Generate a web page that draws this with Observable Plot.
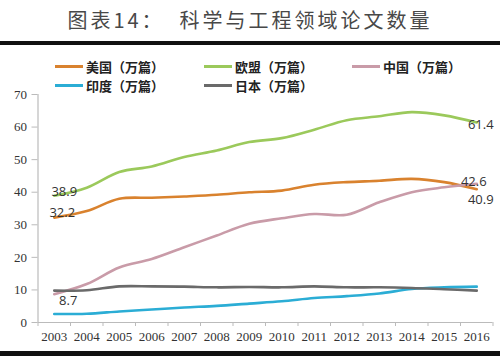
<!DOCTYPE html>
<html>
<head>
<meta charset="utf-8">
<script src="https://cdn.jsdelivr.net/npm/d3@7"></script>
<script src="https://cdn.jsdelivr.net/npm/@observablehq/plot@0.6"></script>
<style>
  html, body { margin: 0; padding: 0; background: #fff; }
  #page { position: relative; width: 500px; height: 356px; overflow: hidden; background: #fff; }
  #title { position: absolute; left: 0; top: 5px; width: 500px; text-align: center;
    font-family: "Noto Sans CJK SC", sans-serif; font-size: 20px; color: #484848; letter-spacing: 3px; white-space: pre; }
  #topbar { position: absolute; left: 0; top: 41px; width: 500px; height: 4px; background: #111; }
  #botbar { position: absolute; left: 0; top: 351px; width: 500px; height: 5px; background: #111; }
  #chart { position: absolute; left: 0; top: 46px; }
  .leg { position: absolute; display: flex; align-items: center;
    font-family: "Noto Sans CJK SC", sans-serif; font-weight: bold; font-size: 13px; color: #222; }
  .leg .sw { width: 28px; height: 3px; margin-right: 3px; }
</style>
</head>
<body>
<div id="page">
  <div id="title"></div>
  <div id="topbar"></div>
  <div id="chart"></div>
  <div id="legend"></div>
  <div id="botbar"></div>
</div>
<script>
const titleText = "图表14：  科学与工程领域论文数量";
const years = [2003, 2004, 2005, 2006, 2007, 2008, 2009, 2010, 2011, 2012, 2013, 2014, 2015, 2016];
const seriesNames = ["美国（万篇）", "欧盟（万篇）", "中国（万篇）", "印度（万篇）", "日本（万篇）"];
const usa   = [32.2, 34.2, 38.0, 38.3, 38.7, 39.2, 40.0, 40.5, 42.3, 43.1, 43.5, 44.1, 43.1, 40.9];
const eu    = [38.9, 41.4, 46.2, 47.9, 50.8, 52.8, 55.4, 56.6, 59.2, 62.1, 63.3, 64.6, 63.6, 61.4];
const china = [8.7, 11.8, 16.9, 19.5, 23.1, 26.7, 30.3, 32.0, 33.3, 33.1, 36.9, 40.0, 41.5, 42.6];
const india = [2.6, 2.7, 3.4, 4.0, 4.6, 5.1, 5.8, 6.5, 7.5, 8.1, 8.9, 10.3, 10.8, 11.0];
const japan = [9.8, 9.9, 11.1, 11.1, 11.0, 10.8, 10.9, 10.8, 11.1, 10.8, 10.8, 10.6, 10.2, 9.8];
const colors = ["#d9822e", "#9bc95b", "#c99ba8", "#2badd5", "#6a6a6a"];
const yTicks = [0, 10, 20, 30, 40, 50, 60, 70];
// annotated values: [series index, year index, dx, dy]
const labels = [
  [1, 0, 10, -8], [0, 0, 8, -9], [2, 0, 14, 3],
  [1, 13, 4, -2], [2, 13, -3, -6], [0, 13, 4, 7]
];

document.getElementById("title").textContent = titleText;

const allSeries = [usa, eu, china, india, japan];
const rows = [];
allSeries.forEach((vals, si) => vals.forEach((v, i) => rows.push({year: years[i], value: v, series: seriesNames[si]})));

const xStart = years[0] - 0.5, xEnd = years[years.length - 1] + 0.5;
const bounds = d3.range(xStart, xEnd + 0.01, 1);

const labelRows = labels.map(([si, yi, dx, dy]) => ({year: years[yi], value: allSeries[si][yi], dx, dy}));

const chart = Plot.plot({
  width: 500,
  height: 304,
  marginLeft: 37.5,
  marginRight: 7.5,
  marginTop: 48,
  marginBottom: 28,
  x: {domain: [xStart, xEnd]},
  y: {domain: [0, 70]},
  color: {domain: seriesNames, range: colors},
  style: {background: "transparent", overflow: "visible"},
  marks: [
    Plot.ruleY([0], {stroke: "#bbb", strokeWidth: 1.2}),
    Plot.ruleX([xStart], {y1: 0, y2: yTicks[yTicks.length - 1], stroke: "#bbb", strokeWidth: 1.2}),
    Plot.axisY(yTicks, {tickSize: 6, tickPadding: 5, stroke: "#bbb", fill: "#333", fontSize: 13,
      fontFamily: "Liberation Serif", label: null}),
    Plot.axisX(years, {tickSize: 0, tickPadding: 9, fill: "#333", fontSize: 13,
      fontFamily: "Liberation Serif", tickFormat: d => String(d), label: null}),
    Plot.axisX(bounds, {tickSize: 4, stroke: "#bbb", tickFormat: () => "", label: null}),
    Plot.line(rows, {x: "year", y: "value", z: "series", stroke: "series", strokeWidth: 2.6, curve: "catmull-rom"}),
    Plot.text(labelRows, {x: "year", y: "value", text: d => d.value.toFixed(1),
      fontSize: 13, fontFamily: "Open Sans", fill: "#333"})
  ]
});
document.getElementById("chart").appendChild(chart);

// apply per-label offsets
const texts = chart.querySelectorAll("g[aria-label='text'] text");
texts.forEach((t, i) => {
  const r = labelRows[i];
  t.setAttribute("dx", r.dx);
  t.setAttribute("dy", r.dy + 4);
});

const legend = document.getElementById("legend");
const legPos = [[55, 57], [204, 57], [352, 57], [55, 76], [204, 76]];
seriesNames.forEach((name, i) => {
  const el = document.createElement("div");
  el.className = "leg";
  el.style.left = legPos[i][0] + "px";
  el.style.top = legPos[i][1] + "px";
  el.innerHTML = `<span class="sw" style="background:${colors[i]}"></span><span>${name}</span>`;
  legend.appendChild(el);
});
</script>
</body>
</html>
